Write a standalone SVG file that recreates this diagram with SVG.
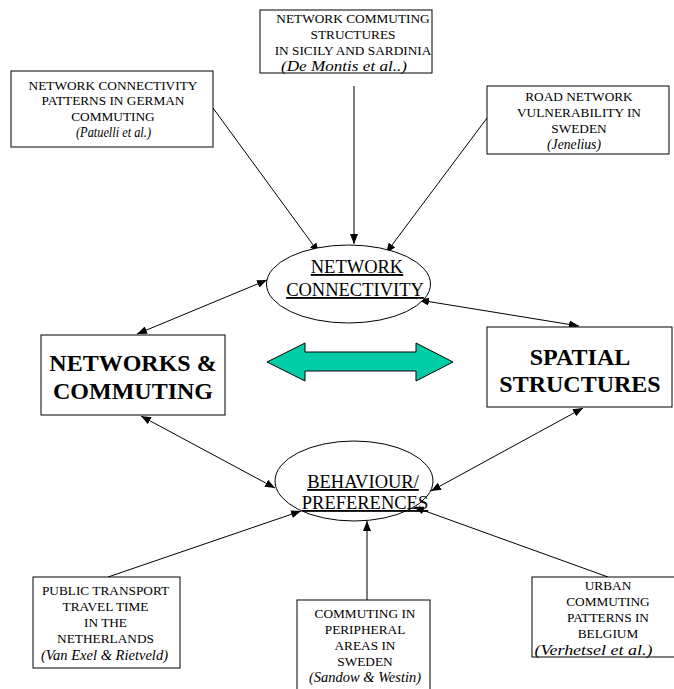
<svg xmlns="http://www.w3.org/2000/svg" width="674" height="689" viewBox="0 0 674 689">
<style>
.box{fill:#fff;stroke:#000;stroke-width:1}
.t{font-size:13.3px;fill:#000;text-anchor:middle}
.i{font-style:italic;font-size:14px}
.b{font-weight:bold;font-size:24px;fill:#000;text-anchor:middle}
.e{font-size:18.5px;fill:#000;text-anchor:middle;text-decoration:underline}
.c{stroke:#000;stroke-width:1;fill:none}
</style>
<defs>
<marker id="ah" viewBox="0 0 10 8" refX="10" refY="4" markerWidth="10" markerHeight="8" markerUnits="userSpaceOnUse" orient="auto-start-reverse">
<path d="M0,0 L10,4 L0,8 Z" fill="#000"/>
</marker>
</defs>
<rect width="674" height="689" fill="#fff"/>
<g id="connectors">
<line class="c" x1="213" y1="108" x2="319" y2="253" marker-end="url(#ah)"/>
<line class="c" x1="354" y1="86" x2="354" y2="244" marker-end="url(#ah)"/>
<line class="c" x1="487" y1="118" x2="386" y2="253" marker-end="url(#ah)"/>
<line class="c" x1="267" y1="280" x2="137" y2="334" marker-start="url(#ah)" marker-end="url(#ah)"/>
<line class="c" x1="419" y1="300" x2="579" y2="326" marker-start="url(#ah)" marker-end="url(#ah)"/>
<line class="c" x1="141" y1="416" x2="275" y2="488" marker-start="url(#ah)" marker-end="url(#ah)"/>
<line class="c" x1="583" y1="408" x2="431" y2="491" marker-start="url(#ah)" marker-end="url(#ah)"/>
<line class="c" x1="108" y1="577" x2="301" y2="511" marker-end="url(#ah)"/>
<line class="c" x1="367" y1="600" x2="367" y2="521" marker-end="url(#ah)"/>
<line class="c" x1="608" y1="577" x2="414" y2="507" marker-end="url(#ah)"/>
</g>
<g font-family="Liberation Serif, Times New Roman, serif">
<g id="box-german">
<rect class="box" x="11" y="71" width="202" height="76"/>
<text class="t" x="113" y="89.5">NETWORK CONNECTIVITY</text>
<text class="t" x="113" y="105">PATTERNS IN GERMAN</text>
<text class="t" x="113" y="121">COMMUTING</text>
<text class="t i" x="113.5" y="137" textLength="75" lengthAdjust="spacingAndGlyphs">(Patuelli et al.)</text>
</g>
<g id="box-sicily">
<rect class="box" x="260" y="10" width="172" height="63"/>
<text class="t" x="353" y="22.5">NETWORK COMMUTING</text>
<text class="t" x="353" y="38.5">STRUCTURES</text>
<text class="t" x="353" y="54.5">IN SICILY AND SARDINIA</text>
<text class="t i" x="344" y="70.5" textLength="126" lengthAdjust="spacingAndGlyphs">(De Montis et al..)</text>
</g>
<g id="box-sweden-road">
<rect class="box" x="487" y="86" width="182" height="68"/>
<text class="t" x="579" y="101">ROAD NETWORK</text>
<text class="t" x="579" y="117">VULNERABILITY IN</text>
<text class="t" x="579" y="133">SWEDEN</text>
<text class="t i" x="574" y="149" textLength="54" lengthAdjust="spacingAndGlyphs">(Jenelius)</text>
</g>
<g id="node-connectivity">
<ellipse cx="348.5" cy="284" rx="82" ry="39" fill="#fff" stroke="#000"/>
<text class="e" x="357" y="273">NETWORK</text>
<text class="e" x="355" y="296">CONNECTIVITY</text>
</g>
<g id="node-networks">
<rect class="box" x="41" y="335" width="184" height="80"/>
<text class="b" x="133" y="371">NETWORKS &amp;</text>
<text class="b" x="133" y="399">COMMUTING</text>
</g>
<g id="node-spatial">
<rect class="box" x="487" y="327" width="185" height="80"/>
<text class="b" x="580" y="365">SPATIAL</text>
<text class="b" x="580" y="392">STRUCTURES</text>
</g>
<g id="green-arrow">
<path d="M267,362 L305,343 L305,352 L416,352 L416,343 L453,362 L416,381 L416,371 L305,371 L305,381 Z" fill="#00CCA6" stroke="#000" stroke-width="1"/>
</g>
<g id="node-behaviour">
<ellipse cx="354" cy="481" rx="79" ry="40" fill="#fff" stroke="#000"/>
<text class="e" x="363" y="488">BEHAVIOUR/</text>
<text class="e" x="365" y="509">PREFERENCES</text>
</g>
<g id="box-netherlands">
<rect class="box" x="33" y="577" width="147" height="91"/>
<text class="t" x="105.5" y="595">PUBLIC TRANSPORT</text>
<text class="t" x="105.5" y="611">TRAVEL TIME</text>
<text class="t" x="105.5" y="627">IN THE</text>
<text class="t" x="105.5" y="643">NETHERLANDS</text>
<text class="t i" x="104.5" y="660" textLength="127" lengthAdjust="spacingAndGlyphs">(Van Exel &amp; Rietveld)</text>
</g>
<g id="box-peripheral">
<rect class="box" x="297" y="600" width="133" height="95"/>
<text class="t" x="365" y="618">COMMUTING IN</text>
<text class="t" x="365" y="634">PERIPHERAL</text>
<text class="t" x="365" y="650">AREAS IN</text>
<text class="t" x="365" y="666">SWEDEN</text>
<text class="t i" x="365" y="682" textLength="112" lengthAdjust="spacingAndGlyphs">(Sandow &amp; Westin)</text>
</g>
<g id="box-belgium">
<rect class="box" x="532" y="577" width="150" height="80"/>
<text class="t" x="608" y="589.5">URBAN</text>
<text class="t" x="608" y="606">COMMUTING</text>
<text class="t" x="608" y="622">PATTERNS IN</text>
<text class="t" x="608" y="638">BELGIUM</text>
<text class="t i" x="593.5" y="654.5" textLength="118" lengthAdjust="spacingAndGlyphs">(Verhetsel et al.)</text>
</g>
</g>
</svg>
